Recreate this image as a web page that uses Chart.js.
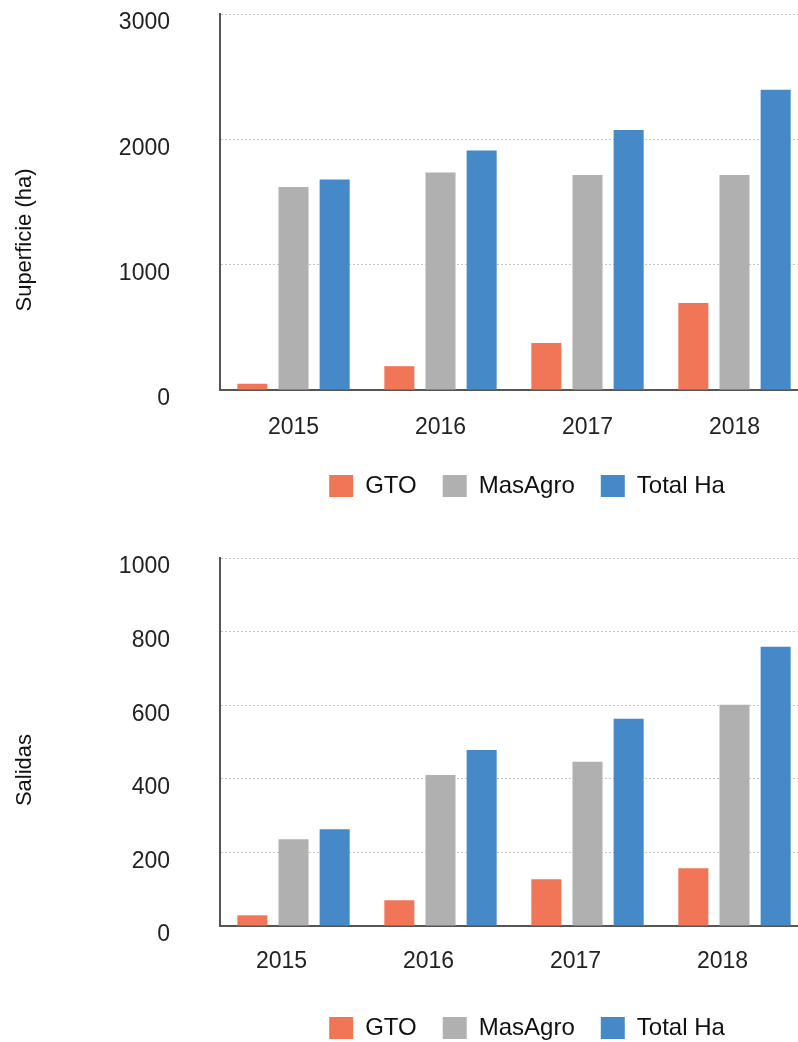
<!DOCTYPE html>
<html>
<head>
<meta charset="utf-8">
<script src="https://cdn.jsdelivr.net/npm/chart.js@4/dist/chart.umd.min.js"></script>
<style>
  html, body { margin: 0; padding: 0; background: #fff; overflow: hidden; width: 798px; height: 1042px; }
  canvas { position: absolute; left: 0; }
  #c1 { top: 0; }
  #c2 { top: 530px; }
</style>
</head>
<body>
<canvas id="c1" width="808" height="508"></canvas>
<canvas id="c2" width="808" height="520"></canvas>
<script>
// Datos
const years = ['2015', '2016', '2017', '2018'];
const seriesNames = ['GTO', 'MasAgro', 'Total Ha'];
const seriesColors = ['#F17658', '#B0B0B0', '#4589C8'];

// Superficie (ha)
const supGTO = [50, 190, 375, 695];
const supMasAgro = [1620, 1735, 1715, 1715];
const supTotal = [1680, 1910, 2075, 2395];

// Salidas
const salGTO = [29, 70, 127, 157];
const salMasAgro = [236, 410, 446, 601];
const salTotal = [263, 478, 563, 759];

const FONT = 'Helvetica, Arial, "Liberation Sans", sans-serif';

// ajustes finos: baja el título del eje y y corre la leyenda a la derecha
const nudges = {
    id: 'nudges',
    afterLayout(chart, args, opts) {
        chart.legend.left += opts.legendDx || 0;
        chart.legend.right += opts.legendDx || 0;
    },
    beforeDraw(chart, args, opts) {
        const y = chart.scales.y;
        if (y._shifted) return;
        const orig = y.drawTitle.bind(y);
        y.drawTitle = function () {
            const c = this.ctx;
            c.save();
            c.translate(0, opts.titleDy || 0);
            orig();
            c.restore();
        };
        y._shifted = true;
    }
};

function makeChart(id, cfg) {
    const ctx = document.getElementById(id).getContext('2d');
    return new Chart(ctx, {
        type: 'bar',
        data: {
            labels: years,
            datasets: cfg.series.map((d, i) => ({
                label: seriesNames[i],
                data: d,
                backgroundColor: seriesColors[i],
                borderWidth: 0,
                categoryPercentage: 0.84,
                barPercentage: 0.73
            }))
        },
        plugins: [nudges],
        options: {
            responsive: false,
            animation: false,
            devicePixelRatio: 1,
            layout: { padding: { top: cfg.padTop, left: 0, right: 0, bottom: 0 } },
            plugins: {
                tooltip: { enabled: false },
                nudges: { titleDy: cfg.titleDy, legendDx: 13 },
                legend: {
                    position: 'bottom',
                    fullSize: false,
                    labels: {
                        boxWidth: 24,
                        boxHeight: 22,
                        padding: 26,
                        color: '#111',
                        font: { family: FONT, size: 24 }
                    }
                }
            },
            scales: {
                x: {
                    grid: { display: false, drawTicks: false },
                    border: { display: true, color: '#555', width: 2 },
                    ticks: {
                        color: '#222',
                        padding: cfg.tickPad,
                        labelOffset: cfg.xLabelOffset,
                        font: { family: FONT, size: 23 }
                    },
                    afterFit: s => {
                        s.height = cfg.xHeight;
                        s.paddingLeft = 0;
                        s.paddingRight = 0;
                    }
                },
                y: {
                    min: 0,
                    max: cfg.yMax,
                    grid: { color: '#c4c4c4', lineWidth: 1, drawTicks: false },
                    border: { display: true, color: '#555', width: 2, dash: [2, 2] },
                    ticks: {
                        stepSize: cfg.yStep,
                        color: '#222',
                        padding: 50,
                        labelOffset: 9,
                        font: { family: FONT, size: 23 },
                        callback: v => String(v)
                    },
                    title: {
                        display: true,
                        text: cfg.title,
                        color: '#111',
                        padding: { top: 12, bottom: 10 },
                        font: { family: FONT, size: 22 }
                    },
                    afterFit: s => {
                        s.width = 220;
                        s.paddingTop = 0;
                        s.paddingBottom = 0;
                    }
                }
            }
        }
    });
}

makeChart('c1', {
    title: 'Superficie (ha)',
    series: [supGTO, supMasAgro, supTotal],
    yMax: 3000, yStep: 1000,
    padTop: 14, tickPad: 24, xHeight: 58, xLabelOffset: 0, titleDy: 38
});
makeChart('c2', {
    title: 'Salidas',
    series: [salGTO, salMasAgro, salTotal],
    yMax: 1000, yStep: 200,
    padTop: 28, tickPad: 22, xHeight: 64, xLabelOffset: -12, titleDy: 28
});
</script>
</body>
</html>
